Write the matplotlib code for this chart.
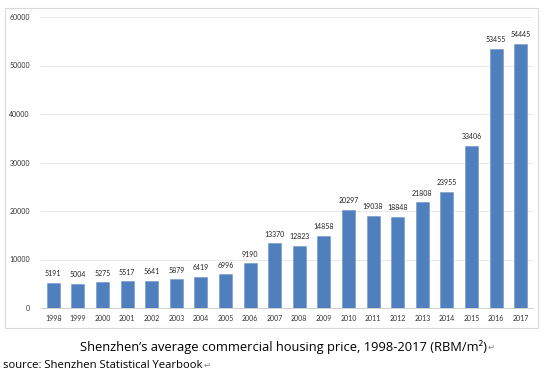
import matplotlib
matplotlib.use("Agg")
import matplotlib.pyplot as plt
from matplotlib.patches import Rectangle

years = [str(y) for y in range(1998, 2018)]
prices = [5191, 5004, 5275, 5517, 5641, 5879, 6419, 6996, 9190, 13370,
          12823, 14858, 20297, 19038, 18848, 21808, 23955, 33406, 53455, 54445]
yticks = [0, 10000, 20000, 30000, 40000, 50000, 60000]
caption = "Shenzhen\u2019s average commercial housing price, 1998-2017 (RBM/m\u00b2)"
source = "source: Shenzhen Statistical Yearbook"
mark = "\u21b5"

fig = plt.figure(figsize=(5.48, 3.75), dpi=100)
W, H = 548, 375

# outer chart frame
fig.patches.append(Rectangle((5 / W, 1 - 328 / H), 533 / W, 320 / H,
                             transform=fig.transFigure, fill=False,
                             edgecolor="#d9d9d9", linewidth=0.8))

ax = fig.add_axes([41 / W, 1 - 308 / H, 492 / W, 291 / H])
x = list(range(len(years)))
ax.bar(x, prices, width=0.53, color="#4F7FBD", edgecolor="#6f98cc",
       linewidth=0.4, zorder=3)
ax.set_xlim(-0.5, len(years) - 0.5)
ax.set_ylim(0, 60000)
ax.set_yticks(yticks)
ax.set_yticklabels([str(v) for v in yticks], fontsize=5, family="Lato")
ax.set_xticks(x)
ax.set_xticklabels(years, fontsize=5, family="Lato")
ax.tick_params(length=0, pad=5, colors="#303030")
ax.tick_params(axis="y", pad=8)
ax.grid(axis="y", color="#e8e8e8", linewidth=0.7, zorder=0)
for s in ["top", "right", "left"]:
    ax.spines[s].set_visible(False)
ax.spines["bottom"].set_color("#d0d0d0")
ax.spines["bottom"].set_linewidth(0.7)
for xi, v in zip(x, prices):
    ax.annotate(str(v), (xi, v), xytext=(0, 4), textcoords="offset points",
                ha="center", va="bottom", fontsize=5, family="Lato",
                color="#202020")

fig.text(80 / W, 1 - 347 / H, caption, ha="left", va="center",
         fontsize=9.3, family=["Open Sans", "DejaVu Sans"], color="#000000")
fig.text(3 / W, 1 - 365 / H, source, ha="left", va="center",
         fontsize=8.1, family=["Open Sans", "DejaVu Sans"], color="#000000")
fig.text(488 / W, 1 - 347 / H, mark, ha="left", va="center",
         fontsize=6, family="DejaVu Sans", color="#808080")
fig.text(204 / W, 1 - 365 / H, mark, ha="left", va="center",
         fontsize=6, family="DejaVu Sans", color="#808080")

fig.savefig("out.png", dpi=100)
